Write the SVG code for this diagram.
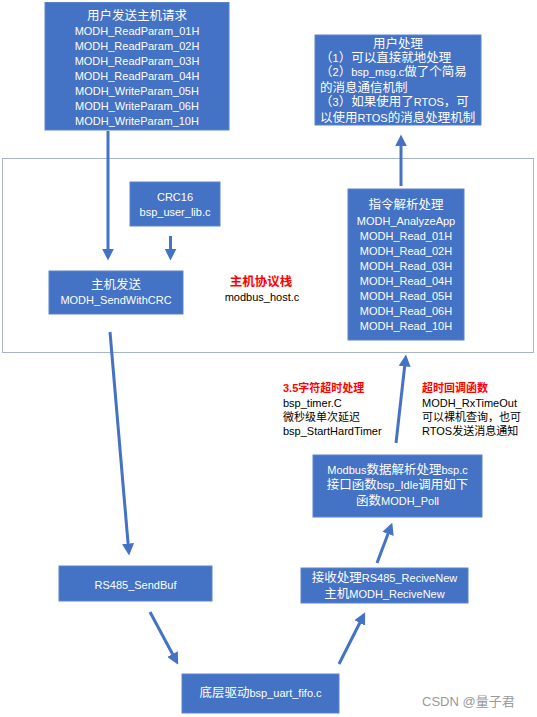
<svg xmlns="http://www.w3.org/2000/svg" width="537" height="717" viewBox="0 0 537 717">
<style>
text{font-family:"Liberation Sans","Noto Sans CJK SC",sans-serif;font-size:11px;}
.w{fill:#ffffff;}
.k{fill:#000000;}
.r{fill:#ff0000;font-weight:bold;}
.c{font-size:12.5px;}
.box{fill:#4472C4;stroke:#5b83cc;stroke-width:1;}
.m{text-anchor:middle;}
.arr{stroke:#4472C4;stroke-width:3;fill:none;marker-end:url(#ah);}
</style>
<defs>
<marker id="ah" markerUnits="userSpaceOnUse" markerWidth="12" markerHeight="12" viewBox="0 0 10 10" refX="7" refY="5" orient="auto">
<path d="M0,0 L10,5 L0,10 z" fill="#4472C4"/>
</marker>
</defs>
<rect width="537" height="717" fill="#ffffff"/>
<g id="container">
<rect x="2.5" y="158.5" width="531" height="194" fill="none" stroke="#a9b6c6" stroke-width="1"/>
</g>
<g id="connectors">
<line class="arr" x1="108" y1="131" x2="108" y2="257"/>
<line class="arr" x1="170.5" y1="236" x2="170.5" y2="257"/>
<line class="arr" x1="110" y1="332" x2="128.8" y2="552"/>
<line class="arr" x1="150" y1="612" x2="176.5" y2="661.5"/>
<line class="arr" x1="339" y1="664" x2="363.5" y2="615.5"/>
<line class="arr" x1="377" y1="563" x2="391" y2="526"/>
<line class="arr" x1="396" y1="443" x2="405.6" y2="358"/>
<line class="arr" x1="401" y1="186" x2="401" y2="138"/>
</g>
<g id="user_send">
<rect class="box" x="45" y="2.5" width="184" height="127.5"/>
<text class="w m" x="137" y="20"><tspan class="c">用户发送主机请求</tspan></text>
<text class="w m" x="137" y="35">MODH_ReadParam_01H</text>
<text class="w m" x="137" y="50">MODH_ReadParam_02H</text>
<text class="w m" x="137" y="65">MODH_ReadParam_03H</text>
<text class="w m" x="137" y="80">MODH_ReadParam_04H</text>
<text class="w m" x="137" y="95">MODH_WriteParam_05H</text>
<text class="w m" x="137" y="110">MODH_WriteParam_06H</text>
<text class="w m" x="137" y="125">MODH_WriteParam_10H</text>
</g>
<g id="user_proc">
<rect class="box" x="315" y="35" width="166" height="90"/>
<text class="w m" x="398" y="48"><tspan class="c">用户处理</tspan></text>
<text class="w" x="320" y="62"><tspan class="c">（</tspan>1<tspan class="c">）可以直接就地处理</tspan></text>
<text class="w" x="320" y="76"><tspan class="c">（</tspan>2<tspan class="c">）</tspan>bsp_msg.c<tspan class="c">做了个简易</tspan></text>
<text class="w" x="320" y="92"><tspan class="c">的消息通信机制</tspan></text>
<text class="w" x="320" y="106"><tspan class="c">（</tspan>3<tspan class="c">）如果使用了</tspan>RTOS<tspan class="c">，可</tspan></text>
<text class="w" x="320" y="122"><tspan class="c">以使用</tspan>RTOS<tspan class="c">的消息处理机制</tspan></text>
</g>
<g id="crc">
<rect class="box" x="130" y="182" width="90" height="44"/>
<text class="w m" x="175" y="201">CRC16</text>
<text class="w m" x="175" y="216">bsp_user_lib.c</text>
</g>
<g id="host_send">
<rect class="box" x="49" y="271" width="134" height="43"/>
<text class="w m" x="116" y="289"><tspan class="c">主机发送</tspan></text>
<text class="w m" x="116" y="304">MODH_SendWithCRC</text>
</g>
<g id="stack_label">
<text class="r m" x="261" y="286"><tspan class="c">主机协议栈</tspan></text>
<text class="k m" x="262" y="301">modbus_host.c</text>
</g>
<g id="analyze">
<rect class="box" x="348" y="189" width="116" height="151"/>
<text class="w m" x="406" y="209"><tspan class="c">指令解析处理</tspan></text>
<text class="w m" x="406" y="225">MODH_AnalyzeApp</text>
<text class="w m" x="406" y="240">MODH_Read_01H</text>
<text class="w m" x="406" y="255">MODH_Read_02H</text>
<text class="w m" x="406" y="270">MODH_Read_03H</text>
<text class="w m" x="406" y="285">MODH_Read_04H</text>
<text class="w m" x="406" y="300">MODH_Read_05H</text>
<text class="w m" x="406" y="315">MODH_Read_06H</text>
<text class="w m" x="406" y="330">MODH_Read_10H</text>
</g>
<g id="timeout_note">
<text class="r" x="283" y="392">3.5字符超时处理</text>
<text class="k" x="283" y="407">bsp_timer.C</text>
<text class="k" x="283" y="421">微秒级单次延迟</text>
<text class="k" x="283" y="435">bsp_StartHardTimer</text>
</g>
<g id="callback_note">
<text class="r" x="422" y="392">超时回调函数</text>
<text class="k" x="422" y="407">MODH_RxTimeOut</text>
<text class="k" x="422" y="421">可以裸机查询，也可</text>
<text class="k" x="422" y="435">RTOS发送消息通知</text>
</g>
<g id="modbus_poll">
<rect class="box" x="313" y="455" width="169" height="62"/>
<text class="w m" x="397.5" y="474">Modbus<tspan class="c">数据解析处理</tspan>bsp.c</text>
<text class="w m" x="397.5" y="489"><tspan class="c">接口函数</tspan>bsp_Idle<tspan class="c">调用如下</tspan></text>
<text class="w m" x="397.5" y="505"><tspan class="c">函数</tspan>MODH_Poll</text>
</g>
<g id="rs485_send">
<rect class="box" x="59" y="566" width="153" height="35"/>
<text class="w m" x="135.5" y="589">RS485_SendBuf</text>
</g>
<g id="receive">
<rect class="box" x="301" y="568" width="167" height="35"/>
<text class="w m" x="384.5" y="582"><tspan class="c">接收处理</tspan>RS485_ReciveNew</text>
<text class="w m" x="384.5" y="598"><tspan class="c">主机</tspan>MODH_ReciveNew</text>
</g>
<g id="uart_fifo">
<rect class="box" x="182" y="674" width="157" height="39"/>
<text class="w m" x="260.5" y="697"><tspan class="c">底层驱动</tspan>bsp_uart_fifo.c</text>
</g>
<g id="watermark">
<text x="422" y="706" style="font-size:13px;fill:#999999">CSDN @量子君</text>
</g>
</svg>
